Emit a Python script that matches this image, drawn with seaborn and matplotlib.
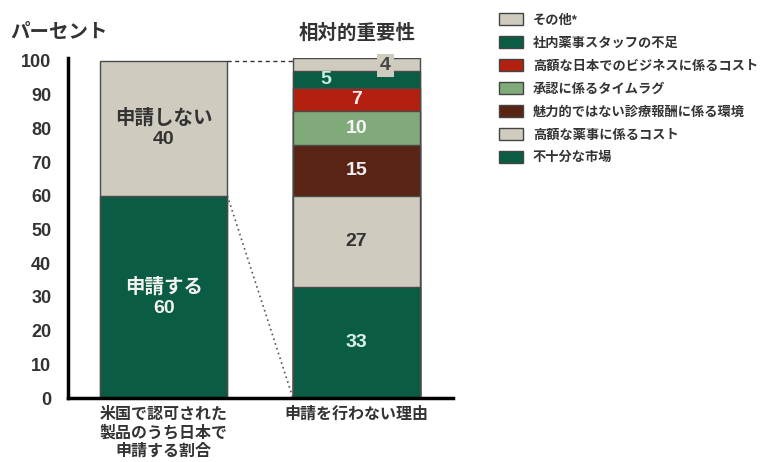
import matplotlib
matplotlib.use("Agg")
import matplotlib.pyplot as plt
import seaborn as sns
import pandas as pd
from matplotlib.patches import Patch

# ---- data ----
categories = ["米国で認可された\n製品のうち日本で\n申請する割合", "申請を行わない理由"]

share_labels = ["申請する", "申請しない"]
share_values = [60, 40]

reason_labels = [
    "不十分な市場",
    "高額な薬事に係るコスト",
    "魅力的ではない診療報酬に係る環境",
    "承認に係るタイムラグ",
    "高額な日本でのビジネスに係るコスト",
    "社内薬事スタッフの不足",
    "その他*",
]
reason_values = [33, 27, 15, 10, 7, 5, 4]

y_ticks = list(range(0, 101, 10))

# ---- styling ----
GREEN = "#0a5c45"
GRAY = "#cfccbf"
RED = "#b3200f"
LIGHT_GREEN = "#80aa7a"
BROWN = "#5a2415"

share_colors = [GREEN, GRAY]
share_text = ["#f2f2ee", "#333333"]
reason_colors = [GREEN, GRAY, BROWN, LIGHT_GREEN, RED, GREEN, GRAY]
reason_text = ["#d8f2e8", "#333333", "#f4eef8", "#f6f6f6", "#fbeeee", "#c8eee0", "#444444"]
# horizontal nudges of the small-segment labels inside the right bar
reason_dx = [0, 0, 0, 0, 0, -0.16, 0.15]

sns.set_theme(style="white")
plt.rcParams["font.family"] = ["Liberation Sans", "Noto Sans CJK JP"]

# segments table: one row per stacked piece
rows = []
for cat, labels, values, colors, tcols, dxs in [
    (categories[0], share_labels, share_values, share_colors, share_text, [0, 0]),
    (categories[1], reason_labels, reason_values, reason_colors, reason_text, reason_dx),
]:
    bottom = 0
    for lab, val, col, tc, dx in zip(labels, values, colors, tcols, dxs):
        rows.append(dict(cat=cat, label=lab, value=val, color=col, tcolor=tc, dx=dx,
                         bottom=bottom, top=bottom + val))
        bottom += val
seg = pd.DataFrame(rows)

fig = plt.figure(figsize=(7.72, 4.62), dpi=100)
ax = fig.add_axes([0.088, 0.1385, 0.499, 0.737])

BAR_W = 0.66
# stacked bars: draw cumulative tops from highest to lowest
for _, r in seg.sort_values("top", ascending=False).iterrows():
    sns.barplot(x=[r["cat"]], y=[r["top"]], order=categories, color=r["color"],
                saturation=1, width=BAR_W, edgecolor="#4a4a4a", linewidth=1,
                errorbar=None, ax=ax)

# segment labels
for _, r in seg.iterrows():
    xi = categories.index(r["cat"]) + r["dx"]
    mid = r["bottom"] + r["value"] / 2
    if r["cat"] == categories[0]:
        ax.text(xi, mid, f"{r['label']}\n{r['value']}", ha="center", va="center",
                fontsize=14, fontweight="bold", color=r["tcolor"], linespacing=1.25)
    elif r["label"] == "その他*":
        ax.text(xi, mid - 0.3, f"{r['value']}", ha="center", va="center",
                fontsize=14, fontweight="bold", color=r["tcolor"],
                bbox=dict(boxstyle="square,pad=0.15", facecolor=GRAY, edgecolor="none"))
    else:
        ax.text(xi, mid, f"{r['value']}", ha="center", va="center",
                fontsize=14, fontweight="bold", color=r["tcolor"])

# connector lines between the two bars
ax.plot([BAR_W / 2, 1 - BAR_W / 2], [100, 100], color="#333333", lw=1,
        linestyle=(0, (3, 2.5)))
ax.plot([BAR_W / 2, 1 - BAR_W / 2], [60, 0], color="#555555", lw=1.2,
        linestyle=(0, (1, 2)))

# axes
ax.set_xlim(-0.496, 1.494)
ax.set_ylim(0, 101)
ax.set_yticks(y_ticks)
ax.set_yticklabels([str(t) for t in y_ticks], fontsize=13, color="#333333",
                   fontweight="bold")
ax.set_xticks([0, 1])
ax.set_xticklabels(categories, fontsize=11.5, color="#333333", linespacing=1.25,
                   fontweight="bold")
ax.set_xticks([0.5, 1.5], minor=True)
ax.tick_params(axis="x", which="major", length=0, pad=6)
ax.tick_params(axis="x", which="minor", length=6, width=2, direction="out", color="black")
ax.tick_params(axis="y", length=6, width=2, direction="out", color="black", pad=6)
ax.set_xlabel("")
ax.set_ylabel("")
for s in ["top", "right"]:
    ax.spines[s].set_visible(False)
for s in ["left", "bottom"]:
    ax.spines[s].set_color("black")
    ax.spines[s].set_linewidth(2.5)

# titles
fig.text(10 / 772, 1 - 33 / 462, "パーセント", ha="left", va="center",
         fontsize=14, fontweight="bold", color="#333333")
fig.text(357 / 772, 1 - 33 / 462, "相対的重要性", ha="center", va="center",
         fontsize=14, fontweight="bold", color="#333333")

# legend (top item first)
handles = [Patch(facecolor=c, edgecolor="#444444", linewidth=1)
           for c in reason_colors[::-1]]
fig.legend(handles, reason_labels[::-1], loc="upper left",
           bbox_to_anchor=(494 / 772, 1 - 8 / 462), frameon=False,
           prop=dict(size=9.5, weight="bold"), handlelength=1.8, handleheight=1.0,
           handletextpad=0.75, labelspacing=0.72, labelcolor="#333333",
           borderaxespad=0)

fig.savefig("out.png", dpi=100)
